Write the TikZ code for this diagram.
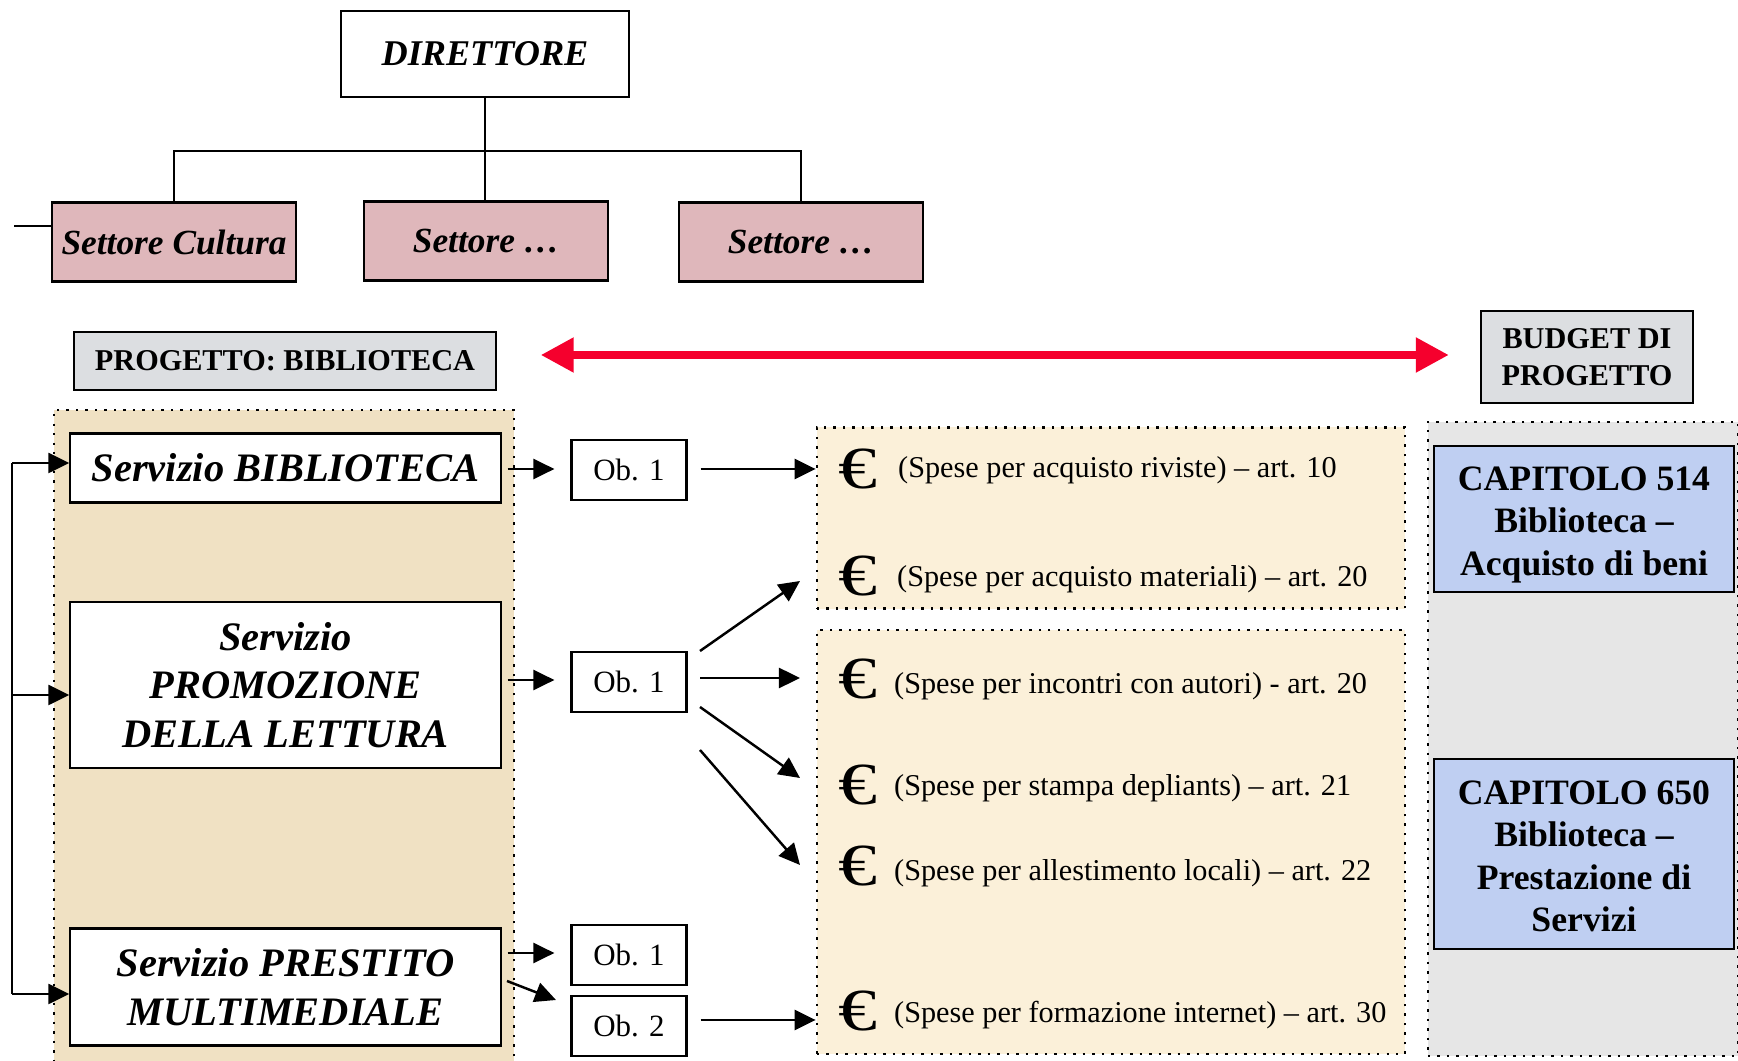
\documentclass[tikz,border=0pt]{standalone}
\usepackage{fontspec}
\usepackage{graphicx}
\setmainfont{Liberation Serif}
\usetikzlibrary{arrows.meta}
\definecolor{tan}{HTML}{F0E1C3}
\definecolor{cream}{HTML}{FBF0D9}
\definecolor{panel}{HTML}{E6E6E6}
\definecolor{rosa}{HTML}{DFB7BB}
\definecolor{marmo}{HTML}{DCDEE1}
\definecolor{azzurro}{HTML}{BFCFF2}
\definecolor{rosso}{HTML}{F5002D}
\tikzset{
	box/.style      = {draw, line width=0.6pt, rectangle, inner sep=0pt, align=center},
	direttore/.style = {box, minimum width=2.87cm, minimum height=0.86cm, font=\fontsize{10.3}{12}\selectfont\bfseries\itshape},
	settore/.style  = {box, fill=rosa, minimum width=2.43cm, minimum height=0.79cm, font=\fontsize{10.05}{12}\selectfont\bfseries\itshape},
	servizio/.style = {box, fill=white, minimum width=4.3cm, font=\fontsize{11.5}{13.8}\selectfont\bfseries\itshape},
	obiettivo/.style = {box, fill=white, minimum width=1.15cm, minimum height=0.6cm, font=\fontsize{8.8}{11}\selectfont},
	capitolo/.style = {box, fill=azzurro, minimum width=3cm, font=\fontsize{10.15}{12.1}\selectfont\bfseries},
	titolo/.style   = {box, fill=marmo, font=\fontsize{8.6}{10.7}\selectfont\bfseries},
	fondo/.style    = {draw, dotted, line width=0.7pt, rectangle, inner sep=0pt},
	spesa/.style    = {anchor=west, inner sep=0pt, font=\fontsize{8.6}{11}\selectfont},
	euro/.style     = {inner sep=0pt, font=\fontsize{17}{17}\selectfont}
}
\newcommand{\eurosimbolo}{\scalebox{1.3}[1]{€}}
\newcommand{\giu}[2]{\parbox[c]{3cm}{\vspace*{#1}\centering #2}}

\begin{document}
\begin{tikzpicture}[x=0.01cm, y=-0.01cm, line width=0.7pt, >={Triangle[length=2.1mm,width=2mm]}]
	\useasboundingbox (0,0) rectangle (1738,1061);
	\draw
	% Drawing the backgrounds
	node at (284,745)[fondo, fill=tan, minimum width=4.6cm, minimum height=6.7cm] (bgserv) {}
	node at (1111,518)[fondo, fill=cream, minimum width=5.88cm, minimum height=1.81cm] (bgone) {}
	node at (1111,842)[fondo, fill=cream, minimum width=5.88cm, minimum height=4.24cm] (bgtwo) {}
	node at (1583,739)[fondo, fill=panel, minimum width=3.1cm, minimum height=6.34cm] (bgcap) {}
	% Drawing the organisation chart
	node at (485,54)[direttore] (dir) {DIRETTORE}
	node at (174,242)[settore] (s1) {Settore Cultura}
	node at (486,241)[settore] (s2) {Settore \dots}
	node at (801,242)[settore] (s3) {Settore \dots}
	node at (285,361)[titolo, minimum width=4.21cm, minimum height=0.58cm] (prog) {PROGETTO: BIBLIOTECA}
	node at (1587,357)[titolo, minimum width=2.12cm, minimum height=0.92cm] (budget) {BUDGET DI\\PROGETTO}
	% Drawing the services
	node at (285.5,468)[servizio, minimum height=0.69cm] (sb) {Servizio BIBLIOTECA}
	node at (285.5,685)[servizio, minimum height=1.66cm] (sp) {Servizio\\PROMOZIONE\\DELLA LETTURA}
	node at (285.5,987)[servizio, minimum height=1.17cm] (sm) {Servizio PRESTITO\\MULTIMEDIALE}
	node at (629,470)[obiettivo] (ob1) {Ob. 1}
	node at (629,682)[obiettivo] (ob2) {Ob. 1}
	node at (629,955)[obiettivo] (ob3) {Ob. 1}
	node at (629,1026)[obiettivo] (ob4) {Ob. 2}
	% Drawing the budget chapters
	node at (1584,519)[capitolo, minimum height=1.46cm] (c1) {\giu{3.2pt}{CAPITOLO 514\\Biblioteca --\\Acquisto di beni}}
	node at (1584,854)[capitolo, minimum height=1.9cm] (c2) {\giu{1.3pt}{CAPITOLO 650\\Biblioteca --\\Prestazione di\\Servizi}}
	;

	% Drawing the expense lines
	\draw
	node at (858,469)[euro] (e1) {\eurosimbolo} node at (897,470)[spesa] (t1) {(Spese per acquisto riviste) -- art. 10}
	node at (858,576)[euro] (e2) {\eurosimbolo} node at (896,579)[spesa] (t2) {(Spese per acquisto materiali) -- art. 20}
	node at (858,679)[euro] (e3) {\eurosimbolo} node at (893,686)[spesa] (t3) {(Spese per incontri con autori) - art. 20}
	node at (858,785)[euro] (e4) {\eurosimbolo} node at (893,788)[spesa] (t4) {(Spese per stampa depliants) -- art. 21}
	node at (858,866)[euro] (e5) {\eurosimbolo} node at (893,873)[spesa] (t5) {(Spese per allestimento locali) -- art. 22}
	node at (858,1011)[euro] (e6) {\eurosimbolo} node at (893,1015)[spesa] (t6) {(Spese per formazione internet) -- art. 30}
	;

	% Free ends of the connectors
	\coordinate (bar) at (486,151);
	\coordinate (stub) at (14,226);
	\coordinate (railA) at (12,463);
	\coordinate (railB) at (12,695);
	\coordinate (railC) at (12,994);
	\coordinate (rowA) at (0,469);
	\coordinate (rowB) at (0,680);
	\coordinate (rowC) at (0,953);
	\coordinate (rowD) at (0,1020);
	\coordinate (rowE) at (0,355);
	\coordinate (endA) at (800,581);
	\coordinate (endB) at (800,678);
	\coordinate (endC) at (800,778);
	\coordinate (endD) at (800,865);
	\coordinate (outA) at (700,651);
	\coordinate (outB) at (700,678);
	\coordinate (outC) at (700,707);
	\coordinate (outD) at (700,750);
	\coordinate (fromM) at (507,981);
	\coordinate (toO) at (556,1000);

	\draw[line width=0.6pt](dir.south) -- (dir.south |- s2.north);
	\draw[line width=0.6pt](s1.north) |- (bar) -| (s3.north);
	\draw[line width=0.6pt](stub) -- (s1.west |- stub);

	\draw(railA) -- (railC);
	\draw[->](railA) -- (sb.west |- railA);
	\draw[->](railB) -- (sp.west |- railB);
	\draw[->](railC) -- (sm.west |- railC);

	\draw[->, shorten <=0.06cm, shorten >=0.16cm](sb.east |- rowA) -- (ob1.west |- rowA);
	\draw[->, shorten <=0.06cm, shorten >=0.16cm](sp.east |- rowB) -- (ob2.west |- rowB);
	\draw[->, shorten <=0.06cm, shorten >=0.16cm](sm.east |- rowC) -- (ob3.west |- rowC);
	\draw[->](fromM) -- (toO);

	\draw[->, shorten <=0.13cm](ob1.east |- rowA) -- (bgone.west |- rowA);
	\draw[->](outA) -- (endA);
	\draw[->](outB) -- (endB);
	\draw[->](outC) -- (endC);
	\draw[->](outD) -- (endD);
	\draw[->, shorten <=0.13cm](ob4.east |- rowD) -- (bgtwo.west |- rowD);

	\draw[{Triangle[length=3.3mm,width=3.3mm]}-{Triangle[length=3.3mm,width=3.3mm]}, line width=2.3pt, rosso, shorten <=0.44cm, shorten >=0.31cm](prog.east |- rowE) -- (budget.west |- rowE);
\end{tikzpicture}
\end{document}
